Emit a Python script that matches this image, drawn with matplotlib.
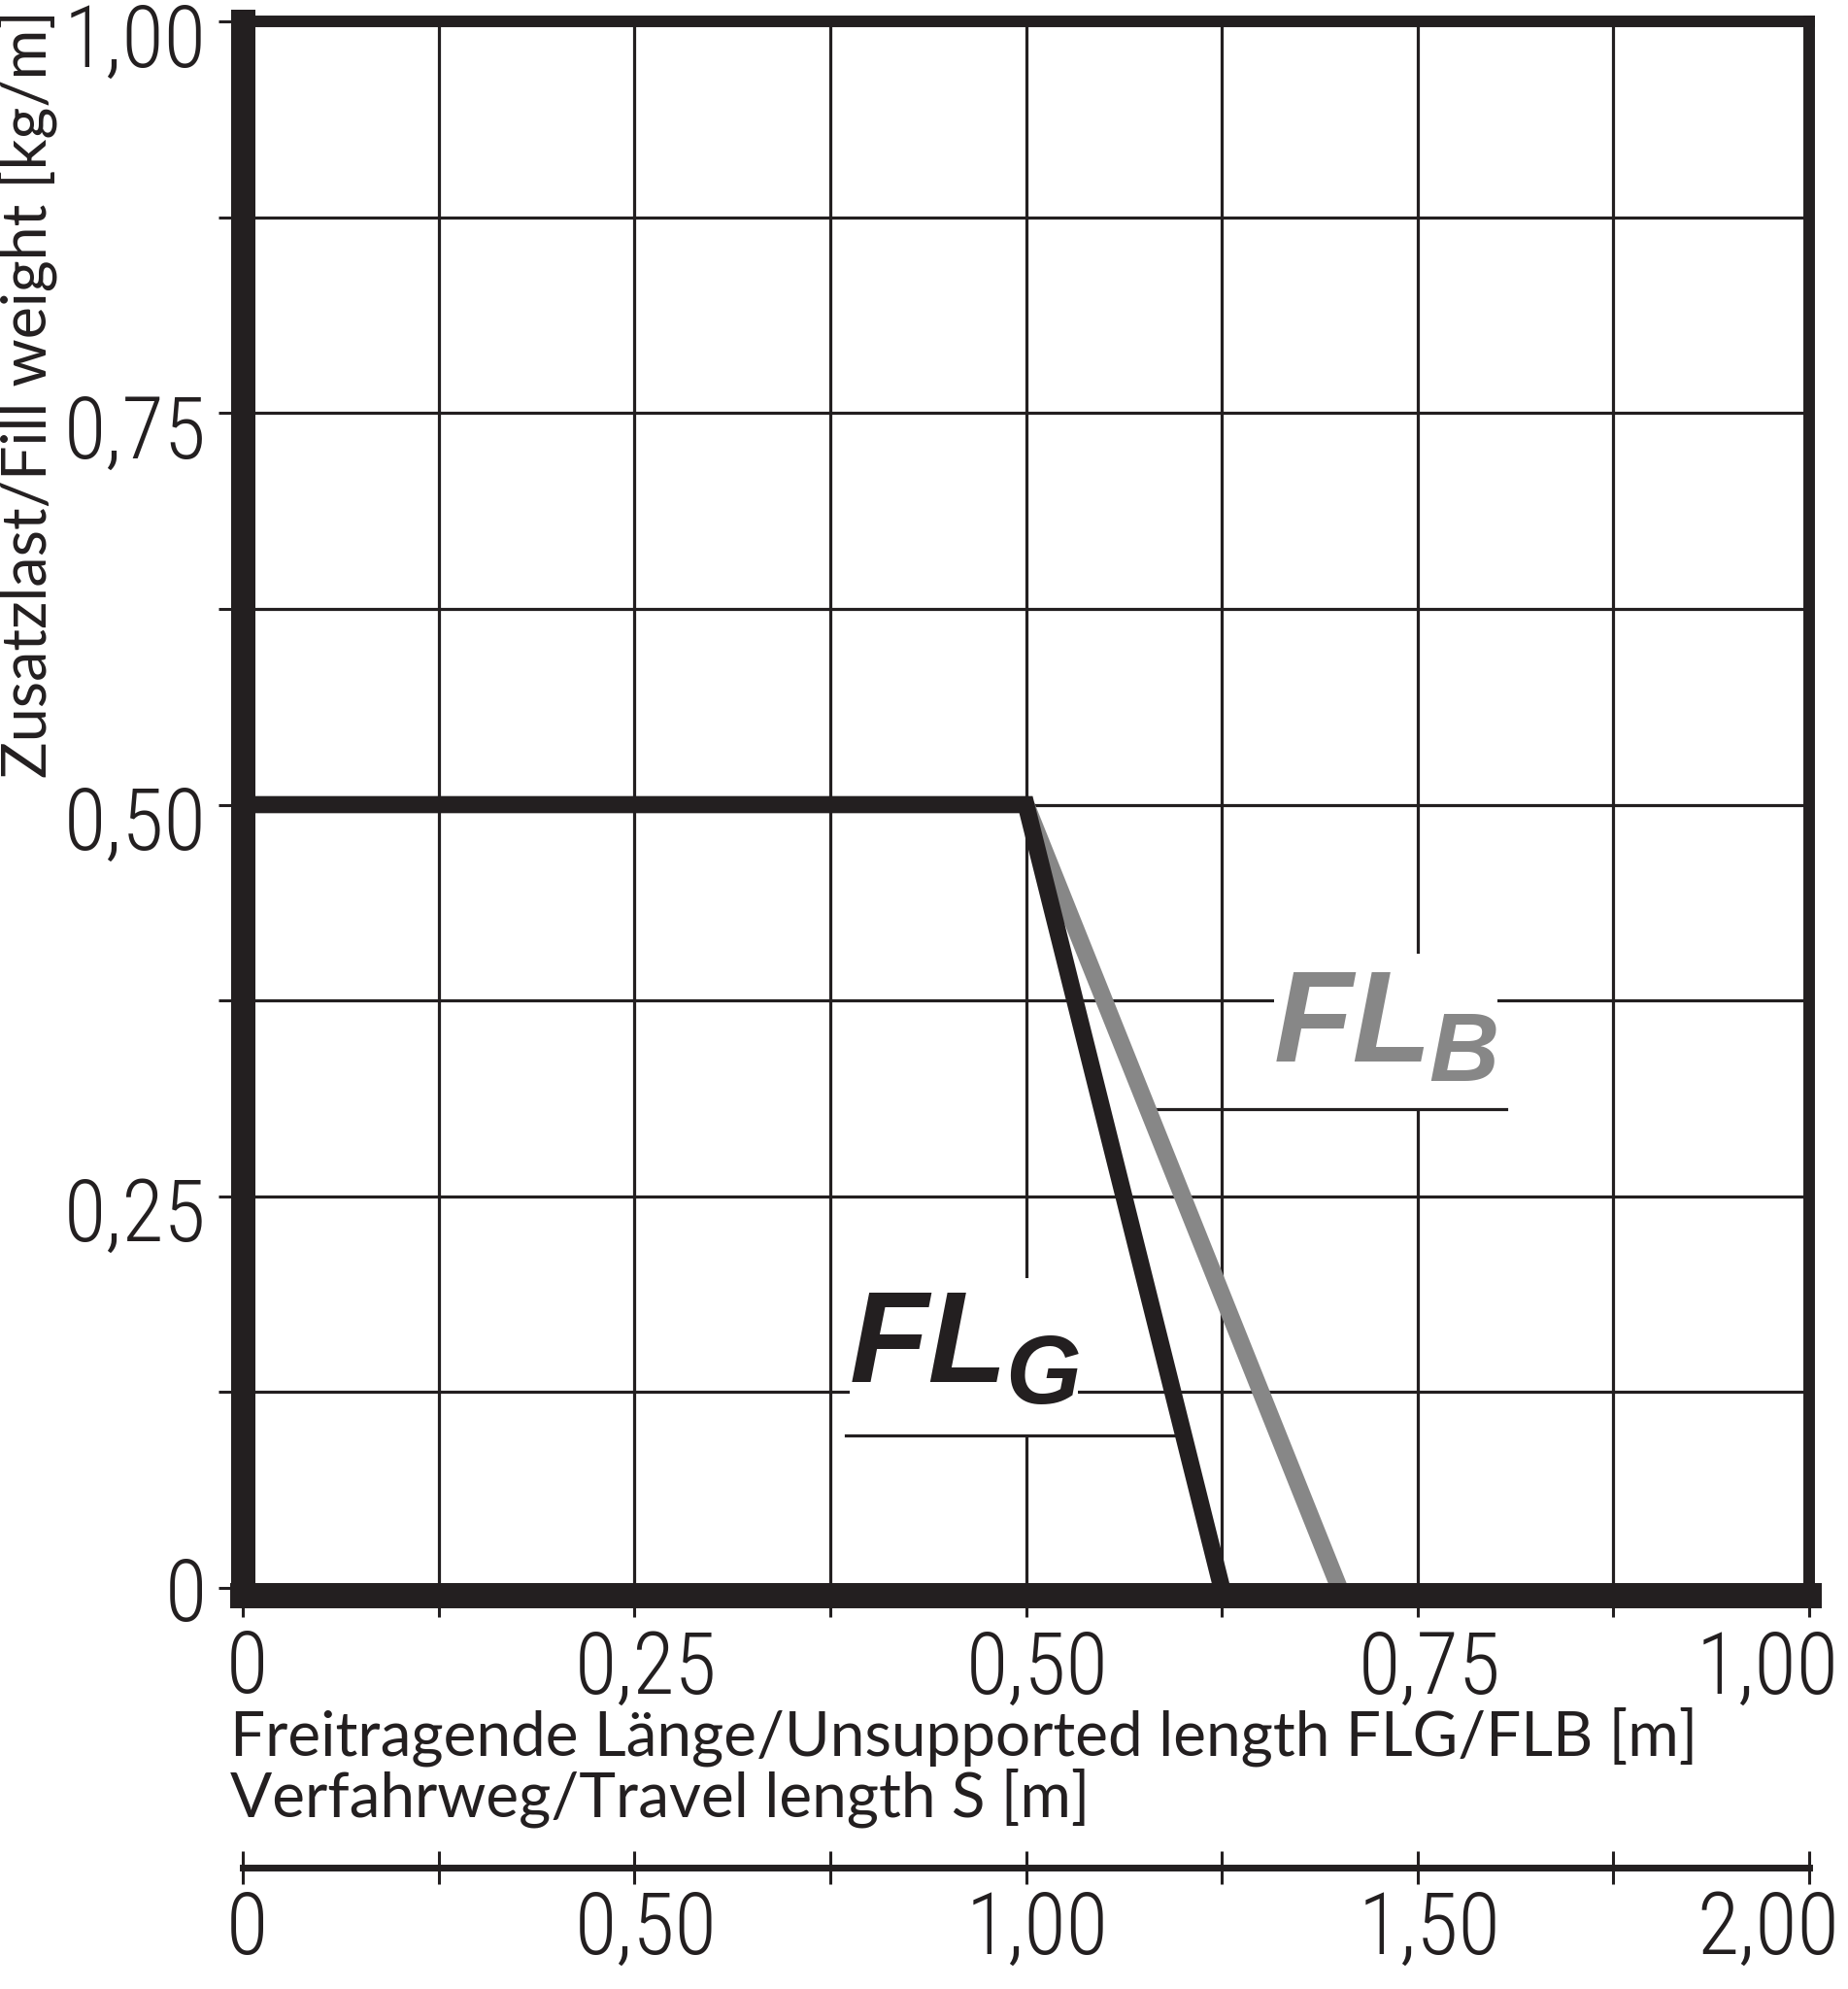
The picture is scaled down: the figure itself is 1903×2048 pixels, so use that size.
"""
Zusatzlast über freitragende Länge (FLG / FLB) mit Verfahrweg-Skala
"""

import matplotlib
matplotlib.use('Agg')
import matplotlib.pyplot as plt
import numpy as np
from matplotlib.ticker import MultipleLocator, FuncFormatter
from matplotlib.patches import Rectangle
from matplotlib.transforms import ScaledTranslation

# Kurven: freitragende Länge [m] -> Zusatzlast [kg/m]
flg_x = [0.0, 0.5, 0.625]
flg_y = [0.5, 0.5, 0.0]
flb_x = [0.5, 0.70]
flb_y = [0.5, 0.0]

# Achsen
x_range = [0.0, 1.0]
y_range = [0.0, 1.0]
travel_factor = 2.0          # Verfahrweg S = 2 x freitragende Länge

x_label = 'Freitragende Länge/Unsupported length FLG/FLB [m]\nVerfahrweg/Travel length S [m]'
y_label = 'Zusatzlast/Fill weight [kg/m]'

BLACK = '#231f20'
GREY = '#878787'
LABEL_FONT = ['Lato', 'DejaVu Sans']
CURVE_FONT = ['Liberation Sans', 'DejaVu Sans']

# Zahlen der Skalen: schmale, leichte Schrift
plt.rcParams['font.family'] = ['Roboto Condensed', 'DejaVu Sans']
plt.rcParams['font.weight'] = 300


def fmt(v, pos):
    if abs(v) < 1e-9:
        return '0'
    return f'{v:.2f}'.replace('.', ',')


def shift(lab, dx_px, dy_px):
    off = ScaledTranslation(dx_px / 100, dy_px / 100, fig.dpi_scale_trans)
    lab.set_transform(lab.get_transform() + off)


fig = plt.figure(figsize=(19.03, 20.48), dpi=100)
ax = fig.add_axes([250 / 1903, 1 - 1635 / 2048, 1613 / 1903, 1613 / 2048])
ax.set_xlim(x_range)
ax.set_ylim(y_range)
ax.set_axisbelow(True)

# Raster
ax.xaxis.set_major_locator(MultipleLocator(0.25))
ax.xaxis.set_minor_locator(MultipleLocator(0.125))
ax.yaxis.set_major_locator(MultipleLocator(0.25))
ax.yaxis.set_minor_locator(MultipleLocator(0.125))
ax.xaxis.set_major_formatter(FuncFormatter(fmt))
ax.yaxis.set_major_formatter(FuncFormatter(fmt))
ax.grid(True, which='both', color=BLACK, linewidth=2.3)

ax.tick_params(axis='x', which='both', direction='out', length=16, width=2.2,
               color=BLACK, labelsize=64, pad=8, labelcolor=BLACK)
ax.tick_params(axis='y', which='both', direction='out', length=18, width=2.2,
               color=BLACK, labelsize=64, pad=9, labelcolor=BLACK)

# Rahmen
ax.spines['left'].set_linewidth(18)
ax.spines['bottom'].set_linewidth(18.7)
ax.spines['bottom'].set_position(('outward', 5.8))
ax.spines['top'].set_linewidth(8.6)
ax.spines['right'].set_linewidth(8.6)
for sp in ax.spines.values():
    sp.set_color(BLACK)
    sp.set_joinstyle('miter')

# Kurven
ax.plot(flb_x, flb_y, color=GREY, linewidth=12.7, solid_joinstyle='miter',
        solid_capstyle='butt', zorder=2)
ax.plot(flg_x, flg_y, color=BLACK, linewidth=12.7, solid_joinstyle='miter',
        solid_capstyle='butt', zorder=2.1)


# Beschriftung der Kurven mit weißem Feld und Unterstrich
def curve_label(sub, color, box, main_xy, sub_xy, line_y, line_x_other, cx, cy):
    x0, y0, w, h = box
    ax.add_patch(Rectangle((x0, y0), w, h, facecolor='white', edgecolor='none', zorder=1))
    ax.text(main_xy[0], main_xy[1], 'FL', color=color, fontsize=96, family=CURVE_FONT,
            weight='bold', style='italic', ha='left', va='baseline', zorder=3)
    ax.text(sub_xy[0], sub_xy[1], sub, color=color, fontsize=72, family=CURVE_FONT,
            weight='bold', style='italic', ha='left', va='baseline', zorder=3)
    # Schnittpunkt mit der Kurve
    xs = np.interp(line_y, cy[::-1], cx[::-1])
    ax.plot([xs, line_x_other], [line_y, line_y], color=BLACK, linewidth=2.3, zorder=1.5)


curve_label('B', GREY, (0.6584, 0.305, 0.1426, 0.100), (0.6584, 0.336), (0.757, 0.3236),
            0.3056, 0.8066, flb_x, flb_y)
curve_label('G', BLACK, (0.3875, 0.0967, 0.1455, 0.1013), (0.3875, 0.1314), (0.487, 0.1178),
            0.0973, 0.385, flg_x, flg_y)

# Achsentitel
ax.set_xlabel(x_label, family=LABEL_FONT, fontsize=46, weight='normal', color=BLACK,
              ha='left', va='top', linespacing=1.03)
ax.xaxis.set_label_coords(-0.008, -0.076)
ax.set_ylabel(y_label, family=LABEL_FONT, fontsize=45.3, weight='normal', color=BLACK,
              ha='right', va='baseline')
ax.yaxis.set_label_coords(-0.1255, 1.0074)

# Zweite Skala: Verfahrweg
sec = ax.secondary_xaxis(-0.1786, functions=(lambda v: v * travel_factor,
                                             lambda v: v / travel_factor))
sec.xaxis.set_major_locator(MultipleLocator(0.5))
sec.xaxis.set_minor_locator(MultipleLocator(0.25))
sec.xaxis.set_major_formatter(FuncFormatter(fmt))
sec.spines['bottom'].set_linewidth(5)
sec.spines['bottom'].set_color(BLACK)
sec.tick_params(which='both', direction='inout', length=24.5, width=2.2, color=BLACK,
                labelsize=64, pad=3.5, labelcolor=BLACK)

# Zahlen wie im Original leicht versetzt; letzte Zahl rechtsbündig am Bildrand
fig.canvas.draw()
for lab in ax.get_yticklabels():
    lab.set_va('center_baseline')
    shift(lab, 0, 0 if lab.get_text() == '0' else -13)
for labels, last in ((ax.get_xticklabels(), '1,00'), (sec.get_xticklabels(), '2,00')):
    for lab in labels:
        txt = lab.get_text()
        if txt == last:
            lab.set_ha('right')
            shift(lab, 31, 0)
        elif txt != '0':
            shift(lab, 12, 0)
        else:
            shift(lab, 4, 0)

fig.savefig('out.png', dpi=100)
